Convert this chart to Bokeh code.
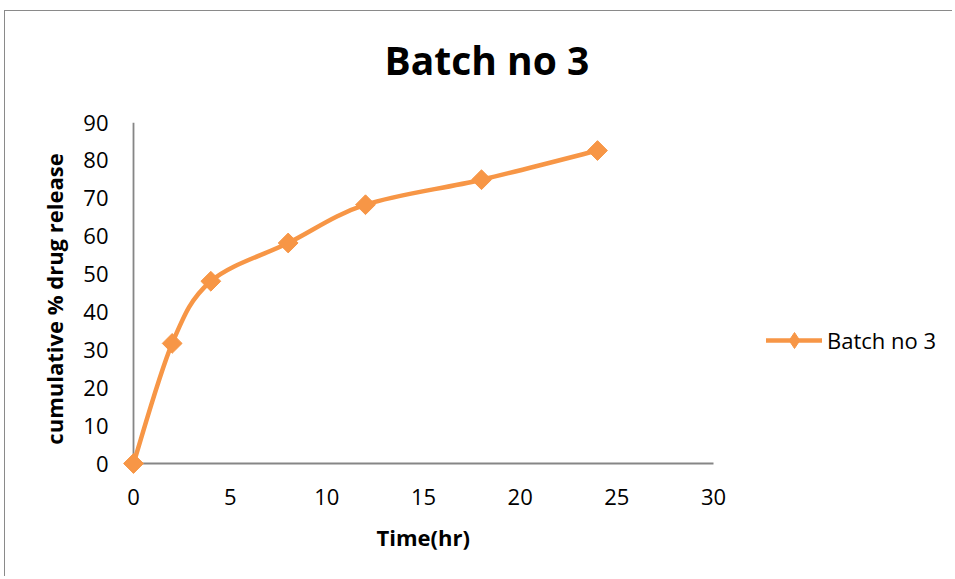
import numpy as np
from bokeh.plotting import figure
from bokeh.models import Range1d, Legend, LegendItem, FixedTicker, Title
from bokeh.embed import file_html
from bokeh.resources import INLINE

# ---- data ----
time_hr = [0, 2, 4, 8, 12, 18, 24]
release = [0, 31.7, 48.1, 58.2, 68.3, 74.9, 82.6]
series_name = "Batch no 3"
title_text = "Batch no 3"
x_label = "Time(hr)"
y_label = "cumulative % drug release"
x_ticks = [0, 5, 10, 15, 20, 25, 30]
y_ticks = [0, 10, 20, 30, 40, 50, 60, 70, 80, 90]

ORANGE = "#F79646"
AXIS = "#868686"
FONT = "Open Sans"

# small padding below/left of 0 so the origin marker is not clipped;
# frame extends right past x=30 to hold the legend
PADX = 12 / 19.333
PADY = 12 / 3.789
p = figure(title=None, width=948, height=566, output_backend="svg", toolbar_location=None,
           x_range=Range1d(-PADX, 42), y_range=Range1d(-PADY, 90),
           min_border_left=116, min_border_right=8, min_border_top=111, min_border_bottom=102,
           styles={"border-top": "1px solid #8a8a8a", "border-left": "1px solid #8a8a8a",
                   "margin-top": "10px", "margin-left": "4px"})
p.outline_line_color = None
p.xgrid.visible = False
p.ygrid.visible = False
p.background_fill_color = "white"
p.border_fill_color = "white"

for ax in (p.xaxis[0], p.yaxis[0]):
    ax.axis_line_color = None
    ax.major_tick_line_color = None
    ax.minor_tick_line_color = None
    ax.major_tick_out = 0
    ax.major_tick_in = 0
    ax.minor_tick_out = 0
    ax.major_label_text_font = FONT
    ax.major_label_text_font_size = "22px"
    ax.major_label_text_color = "black"
    ax.axis_label_text_font = FONT
    ax.axis_label_text_font_size = "22px"
    ax.axis_label_text_font_style = "bold"
    ax.axis_label_text_color = "black"

p.xaxis[0].ticker = FixedTicker(ticks=x_ticks)
p.yaxis[0].ticker = FixedTicker(ticks=y_ticks)
p.xaxis[0].major_label_standoff = 13
p.yaxis[0].major_label_standoff = 13
p.yaxis[0].axis_label = y_label
p.yaxis[0].axis_label_standoff = 11

# axis lines over the tick span only
p.segment(x0=[x_ticks[0], x_ticks[0]], y0=[y_ticks[0], y_ticks[0]],
          x1=[x_ticks[-1], x_ticks[0]], y1=[y_ticks[0], y_ticks[-1]],
          line_color=AXIS, line_width=1.8)

# x-axis title (placed below the axis, centred over 0..30)
xt = Title(text=x_label, align="left", offset=255, standoff=24,
           text_font=FONT, text_font_size="22px", text_font_style="bold", text_color="black")
p.add_layout(xt, "below")

# chart title: a small spacer title next to the frame, then the main title above it
spacer = Title(text=" ", text_font=FONT, text_font_size="12px", standoff=18)
p.add_layout(spacer, "above")
main_title = Title(text=title_text, align="left", offset=263, standoff=0,
                   text_font=FONT, text_font_size="39px", text_font_style="bold",
                   text_color="black")
p.add_layout(main_title, "above")

# smoothed line (Catmull-Rom -> cubic Bezier segments, like Excel smoothing)
xs = np.array(time_hr, dtype=float)
ys = np.array(release, dtype=float)
n = len(xs)
x0, y0, x1, y1, cx0, cy0, cx1, cy1 = [], [], [], [], [], [], [], []
for i in range(n - 1):
    pxm = xs[i - 1] if i > 0 else xs[i]
    pym = ys[i - 1] if i > 0 else ys[i]
    pxp = xs[i + 2] if i + 2 < n else xs[i + 1]
    pyp = ys[i + 2] if i + 2 < n else ys[i + 1]
    x0.append(xs[i]); y0.append(ys[i])
    x1.append(xs[i + 1]); y1.append(ys[i + 1])
    cx0.append(xs[i] + (xs[i + 1] - pxm) / 6.0)
    cy0.append(ys[i] + (ys[i + 1] - pym) / 6.0)
    cx1.append(xs[i + 1] - (pxp - xs[i]) / 6.0)
    cy1.append(ys[i + 1] - (pyp - ys[i]) / 6.0)

curve = p.bezier(x0=x0, y0=y0, x1=x1, y1=y1, cx0=cx0, cy0=cy0, cx1=cx1, cy1=cy1,
                 line_color=ORANGE, line_width=4.5, line_cap="round", line_join="round")
pts = p.scatter(x=time_hr, y=release, marker="square", size=14, angle=np.pi / 4,
                fill_color=ORANGE, line_color=ORANGE, line_width=1)
# hidden renderer used only for the legend swatch (diamond)
legend_marker = p.scatter(x=time_hr, y=release, marker="diamond",
                          fill_color=ORANGE, line_color=ORANGE, visible=False)

legend = Legend(items=[LegendItem(label=series_name, renderers=[curve, legend_marker])],
                location=(645, 115), glyph_width=56, glyph_height=40,
                label_text_font=FONT, label_text_font_size="22px",
                label_text_color="black", label_standoff=5,
                border_line_color=None, background_fill_alpha=0,
                padding=0, margin=0, spacing=0, click_policy="none")
p.add_layout(legend, "center")

open("out.html", "w").write(file_html(p, INLINE))
